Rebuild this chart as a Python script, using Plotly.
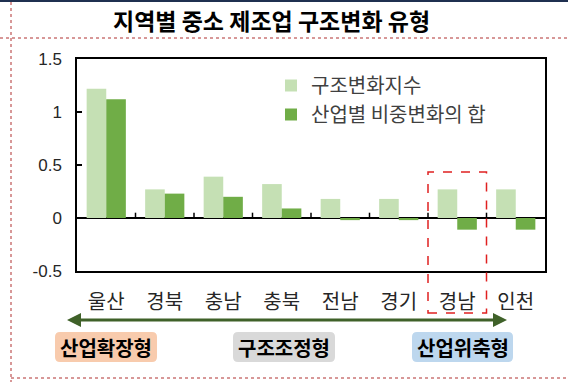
import plotly.graph_objects as go

regions = ["울산", "경북", "충남", "충북", "전남", "경기", "경남", "인천"]
struct_index = [1.22, 0.27, 0.39, 0.32, 0.18, 0.18, 0.27, 0.27]
share_change = [1.12, 0.23, 0.20, 0.09, -0.02, -0.02, -0.11, -0.11]
series_names = ["구조변화지수", "산업별 비중변화의 합"]
y_ticks = [-0.5, 0, 0.5, 1, 1.5]
y_tick_text = ["-0.5", "0", "0.5", "1", "1.5"]
type_labels = ["산업확장형", "구조조정형", "산업위축형"]
title_text = "지역별 중소 제조업 구조변화 유형"

W, H = 568, 382
L, R, T, B = 77, 23, 59, 111
PW, PH = W - L - R, H - T - B

def px(x):
    return (x - L) / PW

def py(y):
    return (H - B - y) / PH

KR = "Noto Sans CJK KR"
NUM = "Liberation Sans, Arial"

fig = go.Figure()
fig.add_trace(go.Bar(x=regions, y=struct_index, name=series_names[0],
                     marker=dict(color="#C5E0B4", line=dict(width=0)),
                     legendgroup="a"))
fig.add_trace(go.Bar(x=regions, y=share_change, name=series_names[1],
                     marker=dict(color="#70AD47", line=dict(width=0)),
                     legendgroup="b"))

shapes = []
# category boundary ticks on the zero line
for i in range(len(regions) - 1):
    shapes.append(dict(type="line", xref="x", yref="y", x0=i + 0.5, x1=i + 0.5,
                       y0=0, y1=0.05, line=dict(color="black", width=1.5)))
# red dashed highlight around 경남
gi = regions.index("경남")
shapes.append(dict(type="rect", xref="x", yref="paper", x0=gi - 0.5, x1=gi + 0.5,
                   y0=py(313), y1=py(172),
                   line=dict(color="#E02020", width=1.5, dash="dash")))
# top navy band
shapes.append(dict(type="rect", xref="paper", yref="paper", x0=px(0), x1=px(W),
                   y0=py(2), y1=py(0), fillcolor="#1F3050", line=dict(width=0)))
# dotted guide lines
dot = dict(color="#B03030", width=1, dash="dot")
shapes.append(dict(type="line", xref="paper", yref="paper", x0=px(0), x1=px(W),
                   y0=py(38), y1=py(38), line=dot))
shapes.append(dict(type="line", xref="paper", yref="paper", x0=px(11), x1=px(W),
                   y0=py(378), y1=py(378), line=dot))
shapes.append(dict(type="line", xref="paper", yref="paper", x0=px(11), x1=px(11),
                   y0=py(2), y1=py(382), line=dot))
# double-headed arrow
ac = "#3F6129"
shapes.append(dict(type="line", xref="paper", yref="paper", x0=px(78), x1=px(496),
                   y0=py(320), y1=py(320), line=dict(color=ac, width=3)))
shapes.append(dict(type="path", xref="paper", yref="paper",
                   path=f"M {px(67)} {py(320)} L {px(81)} {py(313)} L {px(81)} {py(327)} Z",
                   fillcolor=ac, line=dict(color=ac, width=0)))
shapes.append(dict(type="path", xref="paper", yref="paper",
                   path=f"M {px(507)} {py(320)} L {px(493)} {py(313)} L {px(493)} {py(327)} Z",
                   fillcolor=ac, line=dict(color=ac, width=0)))

def rrect(x0, x1, y0, y1, r=5):
    return (f"M {px(x0 + r)} {py(y0)} L {px(x1 - r)} {py(y0)} "
            f"Q {px(x1)} {py(y0)} {px(x1)} {py(y0 + r)} "
            f"L {px(x1)} {py(y1 - r)} Q {px(x1)} {py(y1)} {px(x1 - r)} {py(y1)} "
            f"L {px(x0 + r)} {py(y1)} Q {px(x0)} {py(y1)} {px(x0)} {py(y1 - r)} "
            f"L {px(x0)} {py(y0 + r)} Q {px(x0)} {py(y0)} {px(x0 + r)} {py(y0)} Z")

boxes = [(55, 157, "#F8CBAD"), (233, 335, "#D9D9D9"), (412, 513, "#BDD7EE")]
annotations = []
for (x0, x1, c), lab in zip(boxes, type_labels):
    shapes.append(dict(type="path", xref="paper", yref="paper", path=rrect(x0, x1, 332, 362),
                       fillcolor=c, line=dict(width=0), layer="below"))
    annotations.append(dict(xref="paper", yref="paper", x=px((x0 + x1) / 2), y=py(347),
                            text=f"<b>{lab}</b>", showarrow=False,
                            font=dict(family=KR, size=20, color="black"),
                            xanchor="center", yanchor="middle"))

annotations.append(dict(xref="paper", yref="paper", x=px(271), y=py(20),
                        text=f"<b>{title_text}</b>", showarrow=False,
                        font=dict(family=KR, size=23, color="black"),
                        xanchor="center", yanchor="middle"))

fig.update_layout(
    width=W, height=H,
    margin=dict(l=L, r=R, t=T, b=B, autoexpand=False),
    paper_bgcolor="white", plot_bgcolor="white",
    barmode="group", bargap=0.33, bargroupgap=0,
    showlegend=True,
    legend=dict(x=px(271), y=py(66), xanchor="left", yanchor="top",
                bgcolor="rgba(0,0,0,0)", tracegroupgap=0,
                font=dict(family=KR, size=20, color="#404040")),
    shapes=shapes, annotations=annotations,
    xaxis=dict(showline=True, mirror=True, linecolor="black", linewidth=1.5,
               ticks="", showgrid=False,
               tickfont=dict(family=KR, size=20, color="#262626"),
               ticklabelstandoff=12),
    yaxis=dict(range=[-0.5, 1.5], tickvals=y_ticks, ticktext=y_tick_text,
               showline=True, mirror=True, linecolor="black", linewidth=1.5,
               ticks="inside", ticklen=5, tickwidth=1.5, tickcolor="black",
               showgrid=False, zeroline=True, zerolinecolor="black", zerolinewidth=1.5,
               tickfont=dict(family=NUM, size=17, color="#262626"),
               ticklabelstandoff=10),
)

fig.write_html("out.html", config={"displayModeBar": False})
with open("out.html", "r", encoding="utf-8") as f:
    html = f.read()
html = html.replace("<head>", "<head><style>html,body{margin:0;padding:0;}</style>", 1)
with open("out.html", "w", encoding="utf-8") as f:
    f.write(html)
